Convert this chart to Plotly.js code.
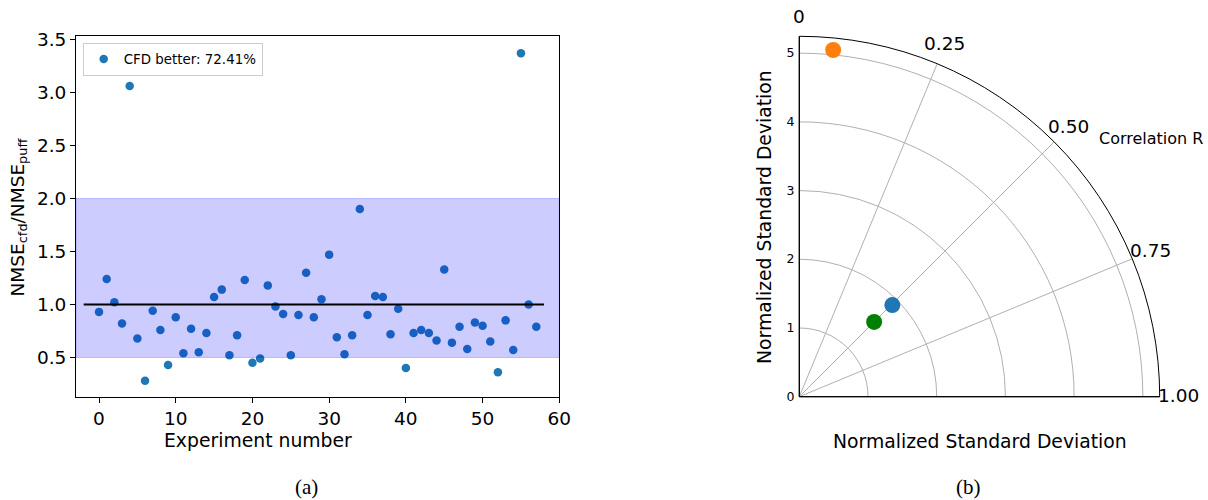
<!DOCTYPE html>
<html>
<head>
<meta charset="utf-8">
<script src="https://cdn.plot.ly/plotly-3.0.1.min.js"></script>
<style>html,body{margin:0;padding:0;background:#fff;}#chart{width:1208px;height:500px;}</style>
</head>
<body>
<div id="chart"></div>
<script>
// ---- Panel (a): ratio per experiment ----
const experimentNumbers = Array.from({length: 58}, (_, i) => i);
const nmseRatio = [
  0.93, 1.24, 1.02, 0.82, 3.06, 0.68, 0.28, 0.94, 0.76, 0.43,
  0.88, 0.54, 0.77, 0.55, 0.73, 1.07, 1.14, 0.52, 0.71, 1.23,
  0.45, 0.49, 1.18, 0.98, 0.91, 0.52, 0.90, 1.30, 0.88, 1.05,
  1.47, 0.69, 0.53, 0.71, 1.90, 0.90, 1.08, 1.07, 0.72, 0.96,
  0.40, 0.73, 0.76, 0.73, 0.66, 1.33, 0.64, 0.79, 0.58, 0.83,
  0.80, 0.65, 0.36, 0.85, 0.57, 3.37, 1.00, 0.79
];
const legendLabel = "CFD better: 72.41%";
const bandLow = 0.5, bandHigh = 2.0;
const refValue = 1.0, refStart = -2, refEnd = 58;
const xTicks = [0, 10, 20, 30, 40, 50, 60];
const yTicks = [0.5, 1.0, 1.5, 2.0, 2.5, 3.0, 3.5];

// ---- Panel (b): Taylor-style diagram ----
const modelNames = ["orange", "blue", "green"];
const modelCorr = [0.062, 0.505, 0.50];
const modelStd = [5.07, 1.90, 1.54];
const modelColors = ["#ff7f0e", "#1f77b4", "#008000"];
const corrTicks = [0, 0.25, 0.5, 0.75, 1.0];
const corrTickText = ["0", "0.25", "0.50", "0.75", "1.00"];
const stdTicks = [0, 1, 2, 3, 4, 5];

// layout geometry (pixels)
const W = 1208, H = 500;
const FONT = "DejaVu Sans, Liberation Sans, sans-serif";
const px = v => v / W, py = v => 1 - v / H;
const taylorCx = 799.3, taylorCy = 396.7, taylorR = 360.4, stdMax = 5.245;
// label offsets from the arc end of each correlation gridline
const corrLabelOffset = [[0, -20], [7, -20], [14, -15], [18, -8], [19, -1]];

const traces = [
  {
    type: "scatter", mode: "markers", x: experimentNumbers, y: nmseRatio,
    name: legendLabel, marker: {color: "#1f77b4", size: 8.5},
    xaxis: "x", yaxis: "y", showlegend: true, hoverinfo: "x+y"
  }
];
for (let i = 0; i < modelNames.length; i++) {
  traces.push({
    type: "scatterpolar", mode: "markers",
    r: [modelStd[i]], theta: [modelCorr[i] * 90],
    marker: {color: modelColors[i], size: 16},
    name: modelNames[i], showlegend: false, subplot: "polar"
  });
}

function note(text, x, y, size, extra) {
  return Object.assign({text: text, xref: "paper", yref: "paper", x: px(x), y: py(y),
    xanchor: "center", yanchor: "middle", showarrow: false, font: {size: size}}, extra || {});
}

const corrLabels = corrTicks.map((c, i) => {
  const a = c * Math.PI / 2;
  const ex = taylorCx + taylorR * Math.sin(a) + corrLabelOffset[i][0];
  const ey = taylorCy - taylorR * Math.cos(a) + corrLabelOffset[i][1];
  return note(corrTickText[i], ex, ey, 18.5);
});

const layout = {
  width: W, height: H,
  margin: {l: 0, r: 0, t: 0, b: 0},
  paper_bgcolor: "#fff", plot_bgcolor: "#fff",
  font: {family: FONT, color: "#000"},
  xaxis: {
    domain: [px(76), px(559.3)], range: [-3, 60],
    tickvals: xTicks, ticks: "outside", ticklen: 5, tickcolor: "#000",
    showline: true, mirror: true, linecolor: "#000", linewidth: 1,
    showgrid: false, zeroline: false, tickfont: {size: 18.5}
  },
  yaxis: {
    domain: [py(396.7), py(35.7)], range: [0.13, 3.535],
    tickvals: yTicks, tickformat: ".1f", ticks: "outside", ticklen: 5, tickcolor: "#000",
    showline: true, mirror: true, linecolor: "#000", linewidth: 1,
    showgrid: false, zeroline: false, tickfont: {size: 18.5}
  },
  legend: {
    x: px(82.7), y: py(42.7), xanchor: "left", yanchor: "top",
    bordercolor: "#cccccc", borderwidth: 1, bgcolor: "rgba(255,255,255,0.8)",
    font: {size: 13.4, family: FONT}
  },
  polar: {
    domain: {x: [px(taylorCx), px(taylorCx + taylorR)], y: [py(taylorCy), py(taylorCy - taylorR)]},
    sector: [0, 90],
    bgcolor: "rgba(0,0,0,0)",
    radialaxis: {
      range: [0, stdMax], angle: 90, side: "counterclockwise", tickangle: 90,
      tickvals: stdTicks, tickfont: {size: 12.5}, ticks: "",
      showline: true, linecolor: "#000", linewidth: 1,
      gridcolor: "#b0b0b0", gridwidth: 1
    },
    angularaxis: {
      rotation: 90, direction: "clockwise", thetaunit: "degrees",
      tickvals: corrTicks.map(c => c * 90), showticklabels: false, ticks: "",
      showline: true, linecolor: "#000", linewidth: 1,
      gridcolor: "#b0b0b0", gridwidth: 1
    }
  },
  shapes: [
    {type: "rect", xref: "x domain", yref: "y", x0: 0, x1: 1, y0: bandLow, y1: bandHigh,
     fillcolor: "rgba(0,0,255,0.2)", line: {color: "rgba(0,0,255,0.2)", width: 1}, layer: "above"},
    {type: "line", xref: "x", yref: "y", x0: refStart, x1: refEnd, y0: refValue, y1: refValue,
     line: {color: "#000", width: 2}, layer: "above"},
    {type: "line", xref: "paper", yref: "paper", x0: px(taylorCx), x1: px(taylorCx + taylorR),
     y0: py(taylorCy), y1: py(taylorCy), line: {color: "#000", width: 1}, layer: "above"}
  ],
  annotations: [
    note("NMSE<sub>cfd</sub>/NMSE<sub>puff</sub>", 18.5, 217, 18.5, {textangle: -90}),
    note("Experiment number", 258, 440, 18.8),
    note("Normalized Standard Deviation", 765, 217, 18.8, {textangle: -90}),
    note("Normalized Standard Deviation", 980, 441, 18.8),
    note("Correlation R", 1097, 138, 16, {xanchor: "left"}),
    note("(a)", 306, 487, 21, {font: {size: 21, family: "Liberation Serif, serif"}}),
    note("(b)", 968, 487, 21, {font: {size: 21, family: "Liberation Serif, serif"}})
  ].concat(corrLabels)
};

Plotly.newPlot("chart", traces, layout, {displayModeBar: false, staticPlot: true});
</script>
</body>
</html>
